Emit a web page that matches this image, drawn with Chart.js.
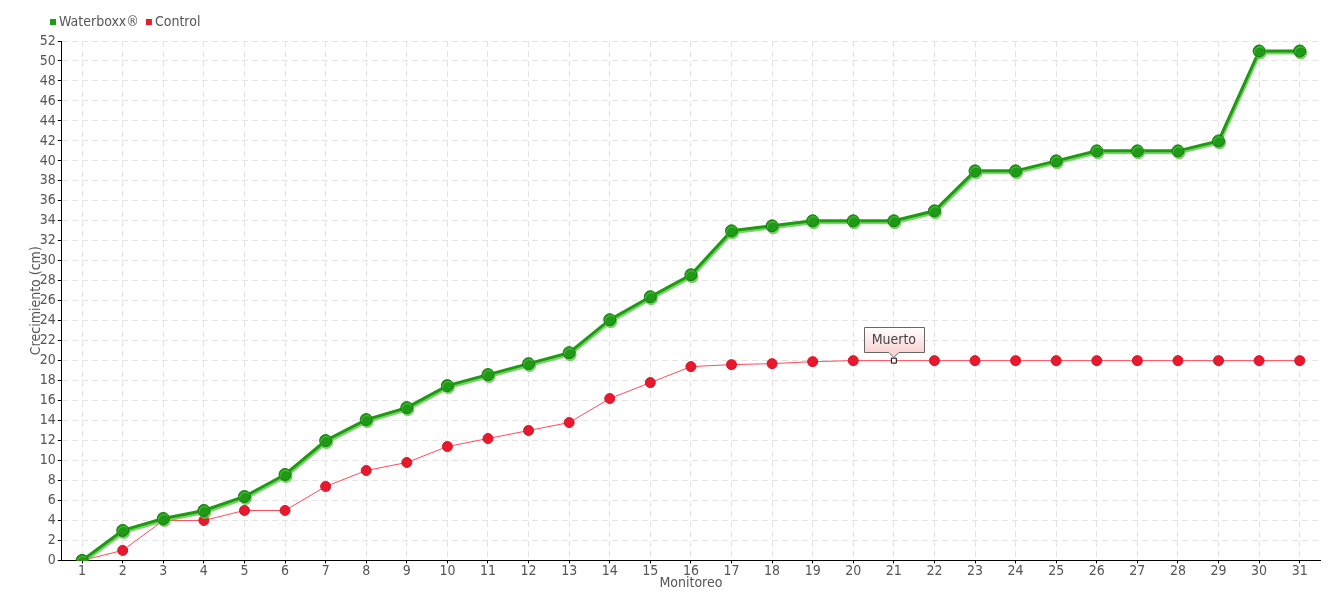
<!DOCTYPE html>
<html>
<head>
<meta charset="utf-8">
<script src="https://cdn.jsdelivr.net/npm/chart.js@4"></script>
<style>
  html, body { margin: 0; padding: 0; background: #fff; }
  #wrap { width: 1340px; height: 600px; }
</style>
</head>
<body>
<div id="wrap"><canvas id="growthChart" width="1340" height="600"></canvas></div>
<script>
// Chart data
const monitoreo = ['1','2','3','4','5','6','7','8','9','10','11','12','13','14','15','16',
                   '17','18','19','20','21','22','23','24','25','26','27','28','29','30','31'];
const waterboxx = [0, 3, 4.2, 5, 6.4, 8.6, 12, 14.1, 15.3, 17.5, 18.6, 19.7, 20.8, 24.1, 26.4, 28.6,
                   33, 33.5, 34, 34, 34, 35, 39, 39, 40, 41, 41, 41, 42, 51, 51];
const control = [0, 1, 4, 4, 5, 5, 7.4, 9, 9.8, 11.4, 12.2, 13, 13.8, 16.2, 17.8, 19.4,
                 19.6, 19.7, 19.9, 20, 20, 20, 20, 20, 20, 20, 20, 20, 20, 20, 20];
const deadIndex = 20;       // monitoreo 21
const deadLabel = 'Muerto';

const FONT = "'DejaVu Sans Condensed', 'DejaVu Sans', sans-serif";
const TEXT = '#555';
const GRID = '#e3e3e3';

// control point styles, the dead plant marked with a white square
const controlStyle = control.map((v, i) => i === deadIndex ? 'rect' : 'circle');
const controlFill = control.map((v, i) => i === deadIndex ? '#fff' : '#e8192c');
const controlEdge = control.map((v, i) => i === deadIndex ? '#000' : '#d81428');
const controlRadius = control.map((v, i) => i === deadIndex ? 3.5 : 5);

// soft light copy under the green line
const lineShadow = {
    id: 'lineShadow',
    beforeDatasetDraw(chart, args) {
        if (args.index !== 0) return;
        const ctx = chart.ctx;
        ctx.save();
        ctx.shadowColor = 'rgba(90, 200, 70, 0.8)';
        ctx.shadowOffsetX = 1;
        ctx.shadowOffsetY = 2;
        ctx.shadowBlur = 0;
    },
    afterDatasetDraw(chart, args) {
        if (args.index !== 0) return;
        chart.ctx.restore();
    }
};

// small legend in the top left corner
const cornerLegend = {
    id: 'cornerLegend',
    afterDraw(chart) {
        const ctx = chart.ctx;
        ctx.save();
        ctx.font = '14px ' + FONT;
        ctx.textBaseline = 'middle';
        let x = 50;
        const y = 22;
        chart.data.datasets.forEach(ds => {
            ctx.fillStyle = ds.backgroundColor;
            ctx.fillRect(x, y - 3, 6, 6);
            ctx.fillStyle = TEXT;
            ctx.fillText(ds.label, x + 9, y);
            x += 9 + ctx.measureText(ds.label).width + 7;
        });
        ctx.restore();
    }
};

// callout box above the dead point
const deadCallout = {
    id: 'deadCallout',
    afterDatasetsDraw(chart) {
        const ctx = chart.ctx;
        const x = chart.scales.x.getPixelForValue(deadIndex);
        const y = chart.scales.y.getPixelForValue(control[deadIndex]);
        ctx.save();
        ctx.font = '14px ' + FONT;
        const w = Math.round(ctx.measureText(deadLabel).width) + 16;
        const h = 25;
        const left = Math.round(x - w / 2) + 0.5;
        const top = Math.round(y - 34) + 0.5;
        const g = ctx.createLinearGradient(0, top, 0, top + h);
        g.addColorStop(0, '#ffffff');
        g.addColorStop(1, '#fbd3d3');
        ctx.beginPath();
        ctx.moveTo(left, top);
        ctx.lineTo(left + w, top);
        ctx.lineTo(left + w, top + h);
        ctx.lineTo(x + 5, top + h);
        ctx.lineTo(x, top + h + 5);
        ctx.lineTo(x - 5, top + h);
        ctx.lineTo(left, top + h);
        ctx.closePath();
        ctx.fillStyle = g;
        ctx.fill();
        ctx.strokeStyle = '#666';
        ctx.lineWidth = 1;
        ctx.stroke();
        ctx.fillStyle = '#444';
        ctx.textAlign = 'center';
        ctx.textBaseline = 'middle';
        ctx.fillText(deadLabel, x, top + h / 2);
        ctx.restore();
    }
};

new Chart(document.getElementById('growthChart'), {
    type: 'line',
    data: {
        labels: monitoreo,
        datasets: [{
            label: 'Waterboxx®',
            data: waterboxx,
            borderColor: '#1c9a10',
            backgroundColor: '#1f9a17',
            borderWidth: 3,
            pointRadius: 6,
            pointBackgroundColor: '#1f9a17',
            pointBorderColor: '#147a0c',
            pointBorderWidth: 1,
            tension: 0
        }, {
            label: 'Control',
            data: control,
            borderColor: '#ff4a5c',
            backgroundColor: '#e8192c',
            borderWidth: 1,
            pointStyle: controlStyle,
            pointRadius: controlRadius,
            pointBackgroundColor: controlFill,
            pointBorderColor: controlEdge,
            pointBorderWidth: 1,
            tension: 0
        }]
    },
    options: {
        responsive: false,
        animation: false,
        layout: { padding: { left: 26, right: 20, top: 41, bottom: 8 } },
        plugins: {
            legend: { display: false },
            tooltip: { enabled: false }
        },
        scales: {
            x: {
                offset: true,
                grid: {
                    offset: false,
                    color: GRID,
                    tickColor: '#000',
                    tickLength: 3,
                    tickBorderDash: []
                },
                border: { color: '#000', width: 1, dash: [6, 4] },
                ticks: { color: TEXT, font: { family: FONT, size: 14 }, padding: 0, maxRotation: 0, autoSkip: false },
                title: {
                    display: true,
                    text: 'Monitoreo',
                    color: TEXT,
                    font: { family: FONT, size: 14 },
                    padding: { top: -5, bottom: 0 }
                }
            },
            y: {
                min: 0,
                max: 52,
                grid: {
                    color: GRID,
                    tickColor: '#000',
                    tickLength: 4,
                    tickBorderDash: []
                },
                border: { color: '#000', width: 1, dash: [6, 4] },
                ticks: { stepSize: 2, color: TEXT, font: { family: FONT, size: 14 }, padding: 2 },
                title: {
                    display: true,
                    text: 'Crecimiento (cm)',
                    color: TEXT,
                    font: { family: FONT, size: 14 },
                    padding: { top: 2, bottom: -7 }
                }
            }
        }
    },
    plugins: [lineShadow, cornerLegend, deadCallout]
});
</script>
</body>
</html>
